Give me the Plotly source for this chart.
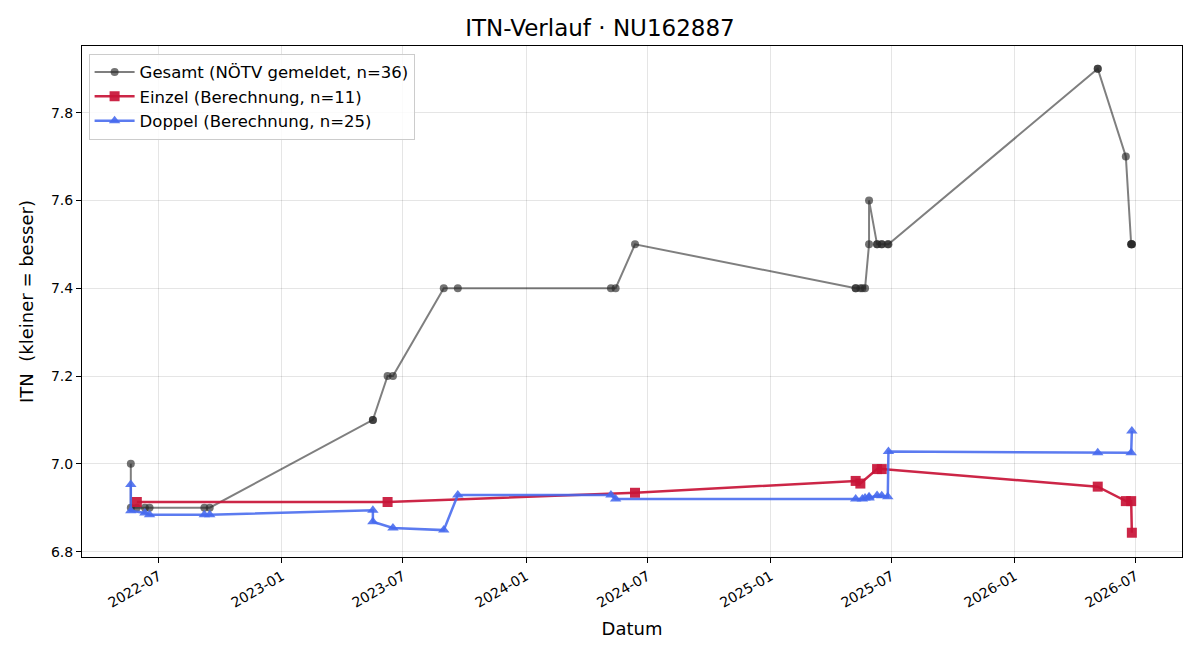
import plotly.graph_objects as go

# Gesamt (reported ITN at each match, n=36)
gesamt_dates = [
    "2022-05-20", "2022-05-20", "2022-05-29", "2022-06-10", "2022-06-17", "2022-09-07",
    "2022-09-15", "2023-05-17", "2023-05-17", "2023-06-08", "2023-06-16", "2023-08-31",
    "2023-09-21", "2024-05-07", "2024-05-14", "2024-06-12", "2025-05-08", "2025-05-08",
    "2025-05-15", "2025-05-18", "2025-05-22", "2025-05-28", "2025-05-28", "2025-06-09",
    "2025-06-09", "2025-06-16", "2025-06-16", "2025-06-25", "2025-06-26", "2026-05-05",
    "2026-05-05", "2026-06-16", "2026-06-24", "2026-06-24", "2026-06-25", "2026-06-25",
]
gesamt_itn = [
    7.0, 6.9, 6.9, 6.9, 6.9, 6.9,
    6.9, 7.1, 7.1, 7.2, 7.2, 7.4,
    7.4, 7.4, 7.4, 7.5, 7.4, 7.4,
    7.4, 7.4, 7.4, 7.5, 7.6, 7.5,
    7.5, 7.5, 7.5, 7.5, 7.5, 7.9,
    7.9, 7.7, 7.5, 7.5, 7.5, 7.5,
]

# Einzel (calculated, n=11)
einzel_dates = [
    "2022-05-29", "2023-06-08", "2024-06-12", "2025-05-08", "2025-05-15", "2025-06-09",
    "2025-06-16", "2026-05-05", "2026-06-16", "2026-06-24", "2026-06-25",
]
einzel_itn = [6.913, 6.913, 6.934, 6.961, 6.955, 6.988, 6.988, 6.948, 6.915, 6.915, 6.843]

# Doppel (calculated, n=25)
doppel_dates = [
    "2022-05-20", "2022-05-20", "2022-06-10", "2022-06-17", "2022-09-07", "2022-09-15",
    "2023-05-17", "2023-05-17", "2023-06-16", "2023-08-31", "2023-09-21", "2024-05-07",
    "2024-05-14", "2025-05-08", "2025-05-18", "2025-05-22", "2025-05-28", "2025-05-28",
    "2025-06-09", "2025-06-16", "2025-06-25", "2025-06-26", "2026-05-05", "2026-06-24",
    "2026-06-25",
]
doppel_itn = [
    6.953, 6.893, 6.888, 6.884, 6.884, 6.884,
    6.894, 6.868, 6.854, 6.849, 6.929, 6.929,
    6.920, 6.920, 6.920, 6.922, 6.925, 6.922,
    6.928, 6.927, 6.925, 7.028, 7.025, 7.025,
    7.075,
]

x_tickvals = ["2022-07-01", "2023-01-01", "2023-07-01", "2024-01-01", "2024-07-01",
              "2025-01-01", "2025-07-01", "2026-01-01", "2026-07-01"]
x_ticktext = ["2022-07", "2023-01", "2023-07", "2024-01", "2024-07",
              "2025-01", "2025-07", "2026-01", "2026-07"]
y_tickvals = [6.8, 7.0, 7.2, 7.4, 7.6, 7.8]
y_ticktext = ["6.8", "7.0", "7.2", "7.4", "7.6", "7.8"]

fig = go.Figure()
fig.add_trace(go.Scatter(
    x=gesamt_dates, y=gesamt_itn, mode="lines+markers",
    name="Gesamt (NÖTV gemeldet, n=36)",
    line=dict(color="rgba(0,0,0,0.5)", width=2),
    marker=dict(symbol="circle", size=8, color="rgba(40,40,40,0.65)", line=dict(width=0)),
))
fig.add_trace(go.Scatter(
    x=einzel_dates, y=einzel_itn, mode="lines+markers",
    name="Einzel (Berechnung, n=11)",
    line=dict(color="rgba(200,20,55,0.92)", width=2.5),
    marker=dict(symbol="square", size=10, color="rgba(200,20,55,0.92)", line=dict(width=0)),
))
fig.add_trace(go.Scatter(
    x=doppel_dates, y=doppel_itn, mode="lines+markers",
    name="Doppel (Berechnung, n=25)",
    line=dict(color="rgba(70,105,238,0.88)", width=2.5),
    marker=dict(symbol="triangle-up", size=10, color="rgba(70,105,238,0.88)", line=dict(width=0)),
))

axis_common = dict(
    showgrid=True, gridcolor="rgba(0,0,0,0.1)", gridwidth=1,
    showline=True, linecolor="black", linewidth=1, mirror=True,
    ticks="outside", ticklen=5, tickcolor="black", tickwidth=1,
    zeroline=False, tickfont=dict(size=14, color="black"),
)

fig.update_layout(
    width=1200, height=660,
    margin=dict(l=82, r=18, t=46, b=103),
    paper_bgcolor="white", plot_bgcolor="white",
    font=dict(family="DejaVu Sans", color="black", size=13),
    title=dict(text="ITN-Verlauf · NU162887", x=0.5, xanchor="center",
               y=0.958, yanchor="middle", font=dict(size=23)),
    showlegend=True,
    legend=dict(x=0.006, y=0.985, xanchor="left", yanchor="top",
                bgcolor="rgba(255,255,255,0.85)", bordercolor="#cccccc", borderwidth=1,
                font=dict(size=16.5), tracegroupgap=0, itemwidth=40),
    xaxis=dict(axis_common, type="date", range=["2022-03-08", "2026-09-08"],
               tickvals=x_tickvals, ticktext=x_ticktext, tickangle=-30,
               title=dict(text="Datum", font=dict(size=18), standoff=12)),
    yaxis=dict(axis_common, range=[6.7877, 7.9518],
               tickvals=y_tickvals, ticktext=y_ticktext,
               title=dict(text="ITN  (kleiner = besser)", font=dict(size=18), standoff=12)),
)

fig.write_html("out.html")
